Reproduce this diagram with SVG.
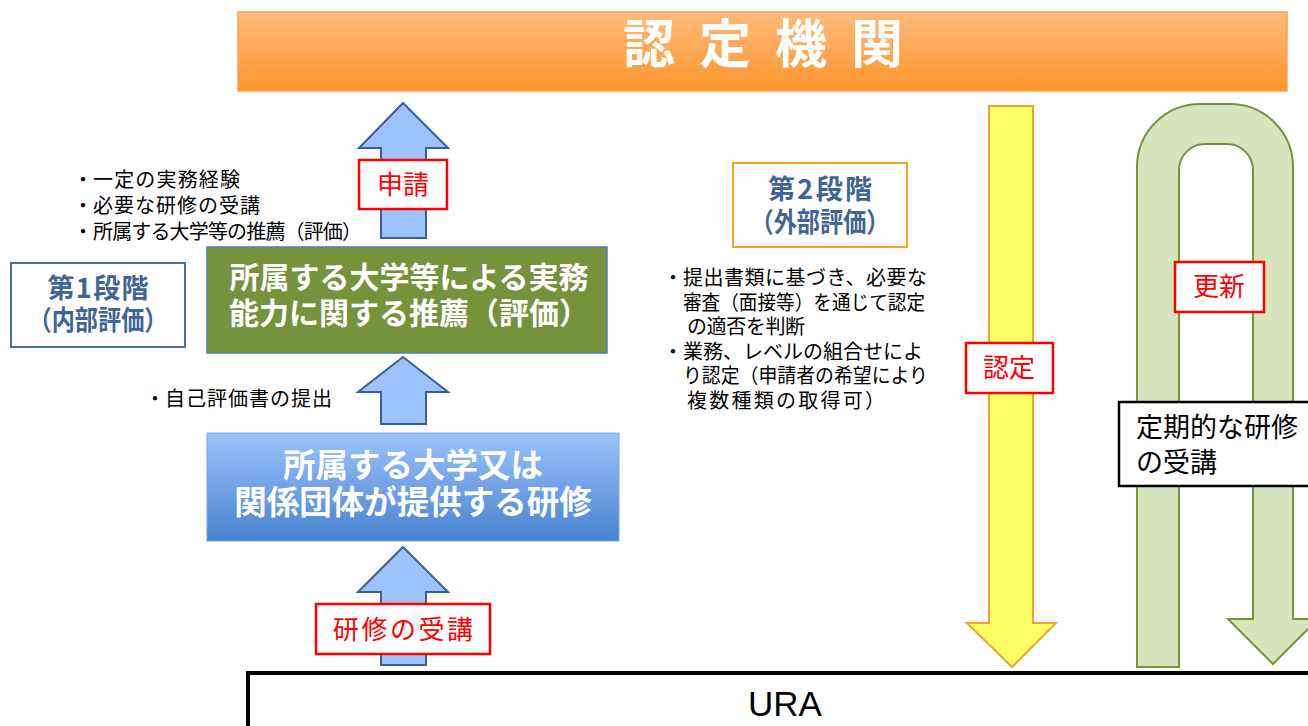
<svg xmlns="http://www.w3.org/2000/svg" width="1308" height="726" viewBox="0 0 1308 726">
<defs>
<linearGradient id="gOrange" x1="0" y1="0" x2="0" y2="1">
<stop offset="0" stop-color="#fdbb7c"/>
<stop offset="1" stop-color="#fe942c"/>
</linearGradient>
<linearGradient id="gBlue" x1="0" y1="0" x2="0" y2="1">
<stop offset="0" stop-color="#9cc3fb"/>
<stop offset="1" stop-color="#4882cf"/>
</linearGradient>
<style>
.jp{font-family:"Noto Sans CJK JP","Noto Sans",sans-serif;}
.b{font-weight:bold;}
.note{font-size:20px;fill:#000;}
.red{font-size:26px;fill:#ff0000;}
.redbox{fill:#fff;stroke:#ff0000;stroke-width:2.5;}
.stage{font-size:27px;fill:#3f6596;font-weight:bold;}
.big{font-size:30px;fill:#fff;font-weight:bold;}
.upArrow{fill:#9cc3fb;stroke:#3c5f96;stroke-width:2;}
</style>
</defs>

<g id="banner">
<rect x="238" y="12" width="1049" height="79" fill="url(#gOrange)" stroke="#f5a25a" stroke-width="1.5"/>
<text class="jp b" x="623" y="63" font-size="52" fill="#fff" letter-spacing="24">認定機関</text>
</g>

<g id="connectors">
<polygon class="upArrow" points="403,103 448,148 426,148 426,238 381,238 381,148 359,148"/>
<polygon class="upArrow" points="403,357 448,392 426,392 426,424 381,424 381,392 358,392"/>
<polygon class="upArrow" points="403,547 448,592 426,592 426,665 381,665 381,592 358,592"/>
<polygon points="989,106 1033,106 1033,623 1056,623 1012,667 967,623 989,623" fill="#ffff66" stroke="#f7a02a" stroke-width="2"/>
<path d="M1137,667 L1137,167 A63,63 0 0 1 1200,104 L1230,104 A63,63 0 0 1 1293,167 L1293,619 L1318,619 L1273,664 L1228,619 L1253,619 L1253,170 A26,26 0 0 0 1227,144 L1205,144 A26,26 0 0 0 1179,170 L1179,667 Z" fill="#d7e4bd" stroke="#77933c" stroke-width="2"/>
</g>

<g id="label-shinsei">
<rect class="redbox" x="359" y="160" width="88" height="49"/>
<text class="jp red" x="403" y="194" text-anchor="middle">申請</text>
</g>

<g id="notes-left">
<text class="jp note"><tspan x="73" y="187">・</tspan><tspan x="93" y="187" textLength="147" lengthAdjust="spacing">一定の実務経験</tspan><tspan x="73" y="213">・</tspan><tspan x="93" y="213" textLength="167" lengthAdjust="spacing">必要な研修の受講</tspan><tspan x="73" y="239">・</tspan><tspan x="93" y="239" textLength="269" lengthAdjust="spacing">所属する大学等の推薦（評価）</tspan></text>
</g>

<g id="stage1">
<rect x="11" y="263" width="174" height="84" fill="#fff" stroke="#4a6fa5" stroke-width="2"/>
<text class="jp stage" text-anchor="middle"><tspan x="98" y="298" textLength="101" lengthAdjust="spacing">第1段階</tspan><tspan x="98" y="330" textLength="139" lengthAdjust="spacingAndGlyphs">（内部評価）</tspan></text>
</g>

<g id="recommend">
<rect x="207" y="247" width="400" height="106" fill="#77923c" stroke="#4f81bd" stroke-width="1.5"/>
<text class="jp big" text-anchor="middle"><tspan x="409" y="288">所属する大学等による実務</tspan><tspan x="409" y="324">能力に関する推薦（評価）</tspan></text>
</g>

<g id="note-self">
<text class="jp note"><tspan x="145" y="406">・</tspan><tspan x="165" y="406" textLength="167" lengthAdjust="spacing">自己評価書の提出</tspan></text>
</g>

<g id="training">
<rect x="207" y="433" width="412" height="108" fill="url(#gBlue)" stroke="#7aa6e6" stroke-width="1"/>
<text class="jp b" text-anchor="middle" font-size="32.5" fill="#fff"><tspan x="413" y="477">所属する大学又は</tspan><tspan x="413" y="514">関係団体が提供する研修</tspan></text>
</g>

<g id="label-jukou">
<rect class="redbox" x="316" y="604" width="174" height="50"/>
<text class="jp red" x="403" y="639" text-anchor="middle" textLength="140" lengthAdjust="spacing">研修の受講</text>
</g>

<g id="stage2">
<rect x="733" y="163" width="174" height="84" fill="#fff" stroke="#f7a02a" stroke-width="2"/>
<text class="jp stage" text-anchor="middle"><tspan x="820" y="199" textLength="104" lengthAdjust="spacing">第2段階</tspan><tspan x="820" y="232" textLength="139" lengthAdjust="spacingAndGlyphs">（外部評価）</tspan></text>
</g>

<g id="notes-right">
<text class="jp note"><tspan x="663" y="285">・</tspan><tspan x="683" y="285" textLength="244" lengthAdjust="spacing">提出書類に基づき、必要な</tspan><tspan x="683" y="310" textLength="242" lengthAdjust="spacingAndGlyphs">審査（面接等）を通じて認定</tspan><tspan x="687" y="334" textLength="118" lengthAdjust="spacing">の適否を判断</tspan><tspan x="663" y="359">・</tspan><tspan x="683" y="359" textLength="240" lengthAdjust="spacing">業務、レベルの組合せによ</tspan><tspan x="683" y="383" textLength="245" lengthAdjust="spacingAndGlyphs">り認定（申請者の希望により</tspan><tspan x="687" y="408" textLength="198" lengthAdjust="spacing">複数種類の取得可）</tspan></text>
</g>

<g id="label-nintei">
<rect class="redbox" x="966" y="343" width="87" height="50"/>
<text class="jp red" x="1009" y="377" text-anchor="middle">認定</text>
</g>

<g id="label-koushin">
<rect class="redbox" x="1175" y="262" width="89" height="50"/>
<text class="jp red" x="1219" y="296" text-anchor="middle">更新</text>
</g>

<g id="periodic">
<rect x="1119" y="402" width="200" height="84" fill="#fff" stroke="#000" stroke-width="2.5"/>
<text class="jp" font-size="27" fill="#000"><tspan x="1136" y="437">定期的な研修</tspan><tspan x="1136" y="472">の受講</tspan></text>
</g>

<g id="ura">
<rect x="248" y="673" width="1100" height="100" fill="#fff" stroke="#000" stroke-width="4"/>
<text x="785" y="716" text-anchor="middle" font-family="Liberation Sans, Arial, sans-serif" font-size="35" fill="#000">URA</text>
</g>
</svg>
